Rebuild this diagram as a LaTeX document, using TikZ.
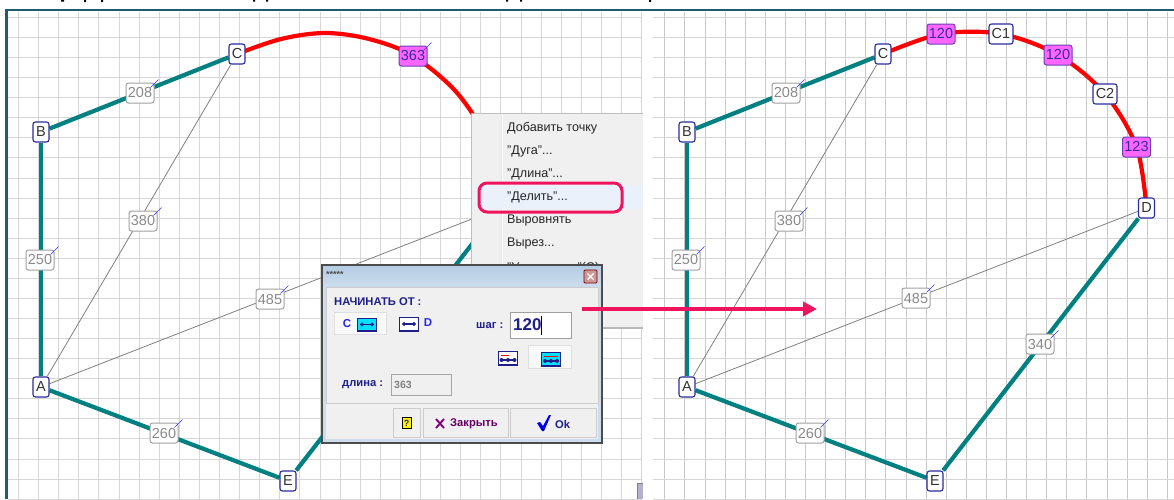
\documentclass[tikz,border=0pt]{standalone}
\usepackage{fontspec}
\setmainfont{Liberation Sans}
\usetikzlibrary{arrows.meta,calc}
\pgfdeclarelayer{gridlayer}
\pgfdeclarelayer{edgelayer}
\pgfsetlayers{gridlayer,edgelayer,main}
\definecolor{frameteal}{HTML}{1F5C6C}
\definecolor{gridgray}{HTML}{D6D6D6}
\definecolor{gridgrayb}{HTML}{C8C8C8}
\definecolor{edgeteal}{HTML}{008080}
\definecolor{nodeblue}{HTML}{2C2C9E}
\definecolor{labgray}{HTML}{8A8A8A}
\definecolor{labborder}{HTML}{A0A0A0}
\definecolor{pinkfill}{HTML}{FF66FF}
\definecolor{pinkborder}{HTML}{6A40B4}
\definecolor{pinktext}{HTML}{3A2AA0}
\definecolor{hotpink}{HTML}{F0145F}
\definecolor{panelgray}{HTML}{F0F0F0}
\definecolor{dlgnavy}{HTML}{1F1F8C}
\definecolor{dlgblue}{HTML}{2828E6}
\definecolor{iconcyan}{HTML}{00E0FF}
\definecolor{titleblue}{HTML}{B4CCE4}
\definecolor{titlepale}{HTML}{CCDDEE}
\definecolor{menuselect}{HTML}{EAF1FB}
\tikzset{
  x=1pt,y=-1pt,
  gridv/.style={gridgrayb,line width=1.3pt},
  gridl/.style={gridgray,line width=1.4pt},
  gridh/.style={gridgray,line width=1.5pt},
  vertexbox/.style={draw=nodeblue,fill=white,rounded corners=2.5pt,line width=1.1pt,minimum width=16pt,minimum height=20pt,inner sep=0pt,font=\fontsize{14.5}{15}\selectfont,text=black!80},
  ptbox/.style={vertexbox,minimum width=24pt},
  lenbox/.style={draw=labborder,fill=white,rounded corners=2.5pt,line width=1pt,minimum width=28pt,minimum height=20pt,inner sep=0pt,font=\fontsize{14.5}{15}\selectfont,text=labgray},
  arcbox/.style={draw=pinkborder,fill=pinkfill,rounded corners=2.5pt,line width=1pt,minimum width=28pt,minimum height=20pt,inner sep=0pt,font=\fontsize{14.5}{15}\selectfont,text=pinktext},
  lentick/.style={blue!80!white,line width=0.6pt},
  thick edge/.style={edgeteal,line width=4.2pt},
  thin edge/.style={gray,line width=0.8pt},
  arc edge/.style={red,line width=4.2pt},
  menutext/.style={anchor=west,inner sep=0pt,font=\fontsize{12.6}{14}\selectfont,text=black!85},
  dlgbold/.style={anchor=west,inner sep=0pt,font=\bfseries\fontsize{11.2}{13}\selectfont,text=dlgnavy},
  icon/.style={draw=dlgnavy,line width=1.5pt},
  raisedbtn/.style={fill=white!60!panelgray,draw=gray!25,line width=0.8pt},
  pushbtn/.style={fill=panelgray,draw=gray!40,line width=1pt},
}
\begin{document}
\begin{tikzpicture}
\useasboundingbox (0,0) rectangle (1174,499);
\begin{pgfonlayer}{gridlayer}
  \fill[white] (0,0) rectangle (1174,499);
  \foreach \k in {0,...,31} {\pgfmathsetmacro\gx{round(18+20.1*\k)+0.5}\draw[gridl] (\gx,12) -- (\gx,499);}
  \foreach \k in {0,...,25} {\pgfmathsetmacro\gx{round(664.3+20.1*\k)+0.5}\draw[gridv] (\gx,12) -- (\gx,499);}
  \foreach \k in {0,...,24} {
    \pgfmathsetmacro\gy{round(17+20.07*\k)+0.5}
    \draw[gridh] (8,\gy) -- (642,\gy);
    \draw[gridh] (653,\gy) -- (1174,\gy);
  }
  \draw[frameteal,line width=2.4pt] (6.5,499) -- (6.5,10) -- (1174,10);
  % fragments of the cut-off line of text above the frame
  \fill[black] (61,0) rectangle (64,1.6) (84,0) rectangle (86,2) (101,0) rectangle (103,2)
    (253,0) rectangle (255,1.6) (266,0) rectangle (268,1.6) (506,0) rectangle (508,1.6)
    (520,0) rectangle (522,1.6) (649,0) rectangle (651,1.8);
\end{pgfonlayer}

% ---------- left figure
\node[vertexbox] (A) at (41,387) {A};
\node[vertexbox] (B) at (41,132) {B};
\node[vertexbox] (C) at (237,54) {C};
\node[vertexbox] (E) at (288,481) {E};
\coordinate (D) at (500,208);
\coordinate (La) at (281,39);
\coordinate (Lb) at (325,33);
\coordinate (Lc) at (369,39);
\coordinate (Le) at (458,94);
\coordinate (Ld) at (490,147);
\node[lenbox] (lab) at (140,93) {208};
\node[lenbox] (lac) at (143,221) {380};
\node[lenbox] (lbl) at (40,260) {250};
\node[lenbox] (lad) at (270,299) {485};
\node[lenbox] (lae) at (164,433) {260};
\node[arcbox] (larc) at (413,56) {363};
\foreach \n in {lab,lac,lbl,lad,lae,larc}
  \draw[lentick] ($(\n.north east)+(-4,5)$) -- ($(\n.north east)+(4,-3)$);
\begin{pgfonlayer}{edgelayer}
  \draw[thin edge] (A) -- (C);
  \draw[thin edge] (A) -- (D);
  \draw[thick edge] (A) -- (B);
  \draw[thick edge] (B) -- (C);
  \draw[thick edge] (A) -- (E);
  \draw[thick edge] (E) -- (D);
  \draw[arc edge] plot[smooth,tension=0.55] coordinates {(C) (La) (Lb) (Lc) (larc) (Le) (Ld) (D)};
\end{pgfonlayer}

% ---------- right figure
\node[vertexbox] (Ar) at (687,387) {A};
\node[vertexbox] (Br) at (687,132) {B};
\node[vertexbox] (Cr) at (883,54) {C};
\node[vertexbox] (Dr) at (1146.5,208) {D};
\node[vertexbox] (Er) at (935,481) {E};
\node[arcbox] (pa) at (941,34) {120};
\node[ptbox] (Cone) at (1001,34) {C1};
\node[arcbox] (pb) at (1058,55) {120};
\node[ptbox] (Ctwo) at (1105,94) {C2};
\node[arcbox] (pc) at (1136.5,147) {123};
\node[lenbox] (rab) at (786,93) {208};
\node[lenbox] (rac) at (789,221) {380};
\node[lenbox] (rbl) at (686,260) {250};
\node[lenbox] (rad) at (916,298) {485};
\node[lenbox] (rde) at (1040,344) {340};
\node[lenbox] (rae) at (810,433) {260};
\foreach \n in {rab,rac,rbl,rad,rde,rae}
  \draw[lentick] ($(\n.north east)+(-4,5)$) -- ($(\n.north east)+(4,-3)$);
\begin{pgfonlayer}{edgelayer}
  \draw[thin edge] (Ar) -- (Cr);
  \draw[thin edge] (Ar) -- (Dr);
  \draw[thick edge] (Ar) -- (Br);
  \draw[thick edge] (Br) -- (Cr);
  \draw[thick edge] (Ar) -- (Er);
  \draw[thick edge] (Er) -- (Dr);
  \draw[arc edge] plot[smooth,tension=0.55] coordinates {(Cr) (pa) (Cone) (pb) (Ctwo) (pc) (Dr)};
\end{pgfonlayer}

% ---------- context menu
\fill[gray!55] (471,327) rectangle (643,329);
\fill[panelgray] (471,113) rectangle (643,327);
\draw[gray!50,line width=1pt] (471,327) -- (471,113) -- (643,113);
\draw[white,line width=1pt] (502,115) -- (502,325);
\draw[gray!20,line width=0.6pt] (501,115) -- (501,325);
\fill[menuselect] (473,185) rectangle (643,209);
\node[menutext] (m1) at (507,128) {Добавить точку};
\node[menutext] (m2) at (507,151) {"Дуга"...};
\node[menutext] (m3) at (507,174) {"Длина"...};
\node[menutext] (m4) at (507,197) {"Делить"...};
\node[menutext] (m5) at (507,220) {Выровнять};
\node[menutext] (m6) at (507,243) {Вырез...};
\node[menutext] (m7) at (507,268) {"Установить"(C)};
\draw[hotpink,line width=3pt,rounded corners=8pt] (479,183) rectangle (622,212);
% small window corner at the bottom of the left panel
\fill[blue!20!gray!50] (637,483) rectangle (643,499);
\draw[gray,line width=0.8pt] (643,483) -- (637,483) -- (637,499);

% ---------- dialog
\shade[top color=titleblue,bottom color=titlepale] (322,265) rectangle (602,287);
\fill[titlepale] (322,287) rectangle (602,443);
\draw[gray!60!black,line width=1.4pt] (322,265) rectangle (602,443);
\node[anchor=west,inner sep=0pt,font=\bfseries\fontsize{9}{10}\selectfont,text=black!70] (dtitle) at (326,274) {*****};
\draw[red!50!black,fill=red!35!gray!60,line width=0.8pt,rounded corners=1pt] (584,270) rectangle (597,283);
\draw[white,line width=1.4pt] (587.5,273.5) -- (593.5,279.5) (593.5,273.5) -- (587.5,279.5);
\fill[panelgray] (326,287) rectangle (598,439);
\draw[gray!40,line width=0.8pt] (326,287) rectangle (598,403);
\node[dlgbold] (dstart) at (334,302) {НАЧИНАТЬ ОТ :};
\draw[raisedbtn] (334,312) rectangle (386,334);
\node[anchor=center,inner sep=0pt,font=\bfseries\fontsize{11.5}{13}\selectfont,text=dlgblue] (dC) at (347,324) {C};
\draw[icon,fill=iconcyan] (357.5,318.5) rectangle (376.5,331);
\draw[dlgnavy,line width=1.1pt,{Circle[length=4pt]}-{Circle[length=4pt]}] (360,324.5) -- (374,324.5);
\draw[icon,fill=white] (399.5,317.5) rectangle (418.5,331);
\draw[dlgnavy,line width=1.1pt,{Circle[length=4pt]}-{Circle[length=4pt]}] (402,324) -- (416,324);
\node[anchor=center,inner sep=0pt,font=\bfseries\fontsize{11.5}{13}\selectfont,text=dlgblue] (dD) at (428,323) {D};
\node[dlgbold] (dstep) at (476,326) {шаг :};
\node[draw=gray!75,fill=white,line width=1.2pt,minimum width=61pt,minimum height=26pt,inner sep=0pt] (dedit) at (541,325.5) {};
\node[anchor=west,inner sep=0pt,font=\bfseries\fontsize{17}{19}\selectfont,text=dlgnavy] (dval) at (513,325) {120};
\draw[black,line width=0.8pt] (541,316) -- (541,335);
\draw[icon,fill=white] (498.5,351.5) rectangle (517.5,365);
\draw[red,line width=1pt] (501,355.5) -- (509,355.5);
\draw[dlgnavy,line width=1.1pt] (501,360) -- (515,360);
\fill[dlgnavy] (501.5,360) circle (2) (508,360) circle (2) (514.5,360) circle (2);
\draw[raisedbtn] (528,345) rectangle (571,368);
\draw[icon,fill=iconcyan] (541.5,352.5) rectangle (560.5,366);
\draw[red,line width=1pt] (544,356.5) -- (558,356.5);
\draw[dlgnavy,line width=1.1pt] (544,361) -- (558,361);
\fill[dlgnavy] (545,361) circle (2) (551,361) circle (2) (557,361) circle (2);
\node[dlgbold] (dlen) at (342,385) {длина :};
\node[draw=gray!70,fill=panelgray,line width=1pt,minimum width=60pt,minimum height=21pt,inner sep=0pt] (dlenbox) at (421.5,385) {};
\node[anchor=west,inner sep=0pt,font=\bfseries\fontsize{10.5}{12}\selectfont,text=gray] (dlenval) at (394,385) {363};
% button row
\draw[pushbtn] (393,408) rectangle (420,437);
\draw[pushbtn] (423,408) rectangle (508,437);
\draw[pushbtn] (510,408) rectangle (596,437);
\node[draw=black,fill=yellow,line width=0.9pt,minimum width=9pt,minimum height=11pt,inner sep=0pt,font=\bfseries\fontsize{9}{10}\selectfont,text=dlgnavy] (dhelp) at (406.5,423) {?};
\draw[violet,line width=1.9pt] (436,419) -- (444,428) (444,419) -- (436,428);
\node[dlgbold,text=violet!80!black] (dclose) at (450,424) {Закрыть};
\fill[blue!90!black] (537,423) -- (540,422) -- (543,426) -- (549,415) -- (551,415) -- (544,431) -- (542,431) -- cycle;
\node[dlgbold] (dok) at (555,424) {Ok};

% ---------- arrow
\coordinate (arrowstart) at (582,309);
\coordinate (arrowend) at (817,309);
\draw[hotpink,line width=4.4pt,-{Triangle[length=14pt,width=14pt]}] (arrowstart) -- (arrowend);
\end{tikzpicture}
\end{document}
